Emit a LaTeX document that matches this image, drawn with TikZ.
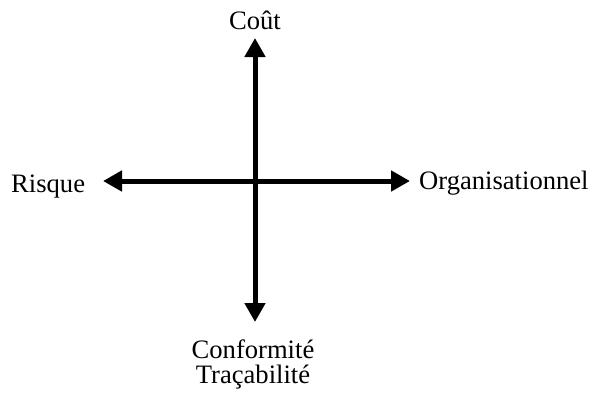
\documentclass[tikz,border=0pt]{standalone}
\usepackage{fontspec}
\setmainfont{Liberation Serif}
\usetikzlibrary{arrows.meta}
\begin{document}
\begin{tikzpicture}[x=1pt,y=-1pt,
  axis/.style={line width=5pt,{Triangle[length=19pt,width=20pt]}-{Triangle[length=19pt,width=20pt]}},
  lbl/.style={inner sep=0pt,font=\fontsize{26.6}{30}\selectfont}]
\useasboundingbox (0,0) rectangle (595,394);
\coordinate (top) at (255,38);
\coordinate (bot) at (255,322);
\coordinate (lft) at (103,181);
\coordinate (rgt) at (410,181);
\draw[axis] (top) -- (bot);
\draw[axis] (lft) -- (rgt);
\node[lbl,anchor=base] (cout) at (255,29) {Coût};
\node[lbl,anchor=base west] (risque) at (11,192) {Risque};
\node[lbl,anchor=base west] (org) at (419,189) {Organisationnel};
\node[lbl,anchor=base] (conf) at (253,358) {Conformité};
\node[lbl,anchor=base] (trac) at (253,383) {Traçabilité};
\end{tikzpicture}
\end{document}
